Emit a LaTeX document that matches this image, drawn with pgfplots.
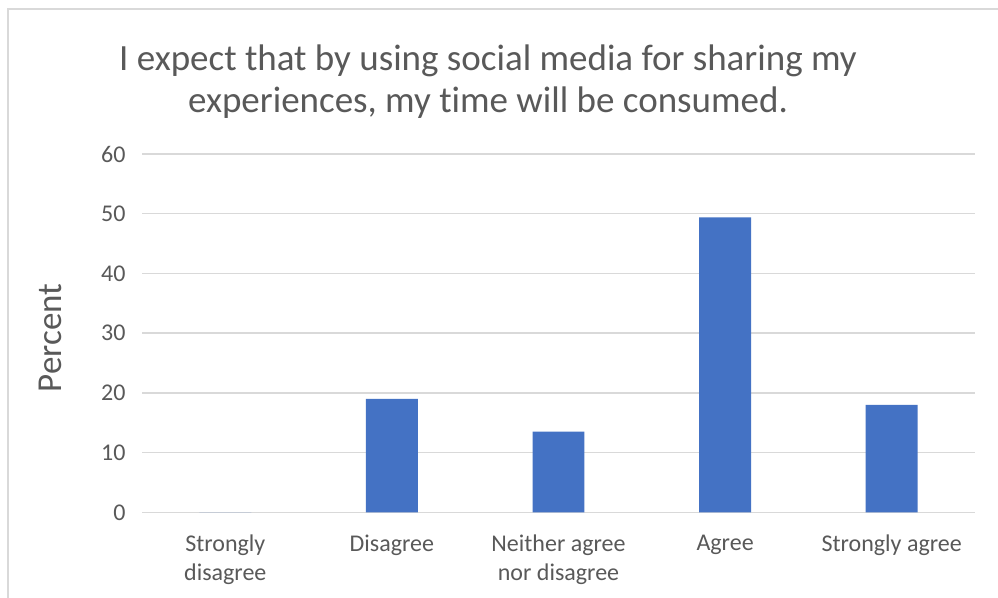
\documentclass[border=0pt]{standalone}
\usepackage{pgfplots}
\pgfplotsset{compat=1.18}
\usepackage{fontspec}
\setmainfont{Carlito}[Ligatures=NoCommon]
\definecolor{txtgray}{HTML}{595959}
\definecolor{gridgray}{HTML}{D9D9D9}
\definecolor{barblue}{HTML}{4472C4}
\begin{document}
\begin{tikzpicture}
\useasboundingbox (0,0) rectangle (998bp,-598bp);
\fill[white] (0,0) rectangle (998bp,-598bp);
\draw[gridgray, line width=1.5bp] (8bp,-600bp) -- (8bp,-9bp) -- (1000bp,-9bp);
\node[anchor=base, text=txtgray, font=\fontsize{37bp}{44bp}\selectfont] at (488bp,-70.7bp) {I expect that by using social media for sharing my};
\node[anchor=base, text=txtgray, font=\fontsize{37bp}{44bp}\selectfont] at (488bp,-112.7bp) {experiences, my time will be consumed.};
\node[anchor=base, rotate=90, text=txtgray, font=\fontsize{35bp}{41bp}\selectfont] at (61bp,-338bp) {Percent};
\begin{axis}[
  at={(142bp,-512.3bp)}, anchor=south west,
  scale only axis, width=833bp, height=358.3bp,
  xmin=-0.5, xmax=4.5, ymin=0, ymax=60,
  ytick={0,10,20,30,40,50,60},
  xtick={0,1,2,3,4},
  xticklabels={{Strongly\\disagree},{Disagree},{Neither agree\\nor disagree},{Agree},{Strongly agree}},
  axis line style={draw=none},
  major tick length=0pt,
  ymajorgrids, grid style={gridgray, line width=1.5bp},
  /pgf/number format/assume math mode=true,
  yticklabel style={text=txtgray, font=\fontsize{24bp}{29bp}\selectfont, anchor=east, xshift=-13bp},
  xticklabel style={text=txtgray, font=\fontsize{24bp}{29bp}\selectfont, align=center, anchor=north, yshift=-19bp},
]
\addplot[ybar, bar width=0.312, fill=barblue, draw=none] coordinates {(0,0) (1,19.0) (2,13.5) (3,49.4) (4,18.0)};
\end{axis}
\end{tikzpicture}
\end{document}
